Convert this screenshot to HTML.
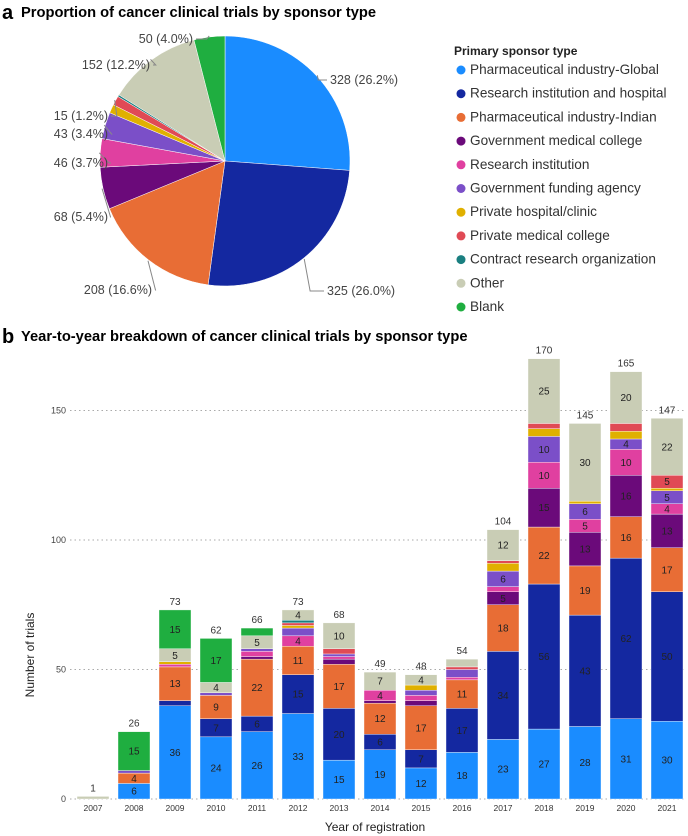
<!DOCTYPE html>
<html><head><meta charset="utf-8"><style>
body{margin:0;background:#fff;font-family:"Liberation Sans",sans-serif;}
svg{display:block}
</style></head><body>
<svg id="s" width="688" height="836" font-family="Liberation Sans, sans-serif">
<text x="2" y="19" font-size="20" font-weight="bold">a</text>
<text x="21" y="17" font-size="14.7" font-weight="bold">Proportion of cancer clinical trials by sponsor type</text>
<text x="2" y="343" font-size="20" font-weight="bold">b</text>
<text x="21" y="341" font-size="14.7" font-weight="bold">Year-to-year breakdown of cancer clinical trials by sponsor type</text>
<g id="pie"></g>
<g id="legend"></g>
<g id="bars"></g>
</svg>
<script>
const NS="http://www.w3.org/2000/svg";
const categories=["Pharmaceutical industry-Global","Research institution and hospital","Pharmaceutical industry-Indian","Government medical college","Research institution","Government funding agency","Private hospital/clinic","Private medical college","Contract research organization","Other","Blank"];
const colors=["#1a8cff","#1428a0","#e86d35","#6b0a7a","#e040a0","#7b4fc8","#e0b000","#e04a55","#1a7f80","#c9cdb5","#1fae40"];
const pieValues=[328,325,208,68,46,43,14,15,3,152,50];
const pieLabels=["328 (26.2%)","325 (26.0%)","208 (16.6%)","68 (5.4%)","46 (3.7%)","43 (3.4%)","","15 (1.2%)","","152 (12.2%)","50 (4.0%)"];
const years=["2007","2008","2009","2010","2011","2012","2013","2014","2015","2016","2017","2018","2019","2020","2021"];
const sGlobal=[0,6,36,24,26,33,15,19,12,18,23,27,28,31,30];
const sResHosp=[0,0,2,7,6,15,20,6,7,17,34,56,43,62,50];
const sIndian=[0,4,13,9,22,11,17,12,17,11,18,22,19,16,17];
const sGovMed=[0,0,0,0,1,0,2,1,2,0,5,15,13,16,13];
const sResInst=[0,0,1,0,2,4,1,4,2,1,2,10,5,10,4];
const sGovFund=[0,1,0,1,1,3,1,0,2,3,6,10,6,4,5];
const sPrivHosp=[0,0,1,0,0,1,0,0,2,0,3,3,1,3,1];
const sPrivMed=[0,0,0,0,0,1,2,0,0,1,1,2,0,3,5];
const sCRO=[0,0,0,0,0,1,0,0,0,0,0,0,0,0,0];
const sOther=[1,0,5,4,5,4,10,7,4,3,12,25,30,20,22];
const sBlank=[0,15,15,17,3,0,0,0,0,0,0,0,0,0,0];
const series=[sGlobal,sResHosp,sIndian,sGovMed,sResInst,sGovFund,sPrivHosp,sPrivMed,sCRO,sOther,sBlank];
const yTicks=[0,50,100,150];

function mk(tag,attrs,parent){const e=document.createElementNS(NS,tag);for(const k in attrs)e.setAttribute(k,attrs[k]);parent.appendChild(e);return e;}

// PIE
const pie=document.getElementById('pie');
const cx=225,cy=161,R=125;
const tot=pieValues.reduce((a,b)=>a+b,0);
let ang=0;
const labelPos={0:[330,84,'start'],1:[327,295,'start'],2:[152,294,'end'],3:[108,221,'end'],4:[108,167,'end'],5:[108,138,'end'],7:[108,120,'end'],9:[150,69,'end'],10:[193,43,'end']};
pieValues.forEach((v,i)=>{
  const a0=ang,a1=ang+v/tot*2*Math.PI;ang=a1;
  const p=(a)=>[cx+R*Math.sin(a),cy-R*Math.cos(a)];
  const [x0,y0]=p(a0),[x1,y1]=p(a1);
  const large=(a1-a0)>Math.PI?1:0;
  const path=mk('path',{d:`M${cx},${cy}L${x0},${y0}A${R},${R} 0 ${large} 1 ${x1},${y1}Z`,fill:colors[i],stroke:'#fff','stroke-width':0.5},pie);
  
  
  if(pieLabels[i]){
    const am=(a0+a1)/2;const [mx,my]=[cx+(R+1)*Math.sin(am),cy-(R+1)*Math.cos(am)];
    const lp=labelPos[i];
    const ex=lp[2]==='start'?lp[0]-3:lp[0]+3;const ey=lp[1]-4;
    const ln=mk('polyline',{points:`${mx},${my} ${(mx+ex)/2+(lp[2]==='start'?-4:4)},${ey} ${ex},${ey}`,fill:'none',stroke:'#888','stroke-width':1},pie);
    
    
    const t=mk('text',{x:lp[0],y:lp[1],'font-size':12.5,fill:'#444','text-anchor':lp[2]},pie);
    t.textContent=pieLabels[i];
    
    
  }
});

// LEGEND
const lg=document.getElementById('legend');
const lt=mk('text',{x:454,y:55,'font-size':12,'font-weight':'bold',fill:'#222'},lg);
lt.textContent='Primary sponsor type';


const clip=mk('clipPath',{id:'lc'},lg);mk('rect',{x:450,y:40,width:218,height:280},clip);
categories.forEach((c,i)=>{
  const y=74+i*23.7;
  const g=mk('g',{'clip-path':'url(#lc)'},lg);
  
  
  mk('circle',{cx:461,cy:y-4,r:4.5,fill:colors[i]},g);
  const t=mk('text',{x:470,y:y,'font-size':13.6,fill:'#333'},g);t.textContent=c;
});

// BARS
const bg=document.getElementById('bars');
const y0px=799,pxPer=2.59;
const yS=v=>y0px-v*pxPer;
const xS=i=>93+i*41;
const bw=32;
yTicks.forEach(t=>{
  const l=mk('line',{x1:70,x2:686,y1:yS(t),y2:yS(t),stroke:'#aaa','stroke-dasharray':'1.5,3','stroke-width':1},bg);
  
  
  const tx=mk('text',{x:66,y:yS(t)+3,'font-size':9,fill:'#444','text-anchor':'end'},bg);tx.textContent=t;
  
  
});
const yt=mk('text',{x:0,y:0,'font-size':12,fill:'#222','text-anchor':'middle',transform:'translate(34,655) rotate(-90)'},bg);
yt.textContent='Number of trials';


const xt=mk('text',{x:375,y:831,'font-size':12,fill:'#222','text-anchor':'middle'},bg);
xt.textContent='Year of registration';


years.forEach((yr,i)=>{
  let cum=0;
  series.forEach((s,k)=>{
    const v=s[i];if(!v)return;
    const r=mk('rect',{x:xS(i)-bw/2,y:yS(cum+v),width:bw,height:v*pxPer,fill:colors[k],stroke:'#fff','stroke-width':0.4},bg);
    
    
    if(v>=4){
      const t=mk('text',{x:xS(i),y:yS(cum+v/2)+3.5,'font-size':10,fill:'#222','text-anchor':'middle'},bg);t.textContent=v;
      
      
    }
    cum+=v;
  });
  const tt=mk('text',{x:xS(i),y:yS(cum)-5,'font-size':10,fill:'#333','text-anchor':'middle'},bg);tt.textContent=cum;
  
  
  const xl=mk('text',{x:xS(i),y:811,'font-size':8.5,fill:'#333','text-anchor':'middle'},bg);xl.textContent=yr;
  
  
});
</script>
</body></html>
